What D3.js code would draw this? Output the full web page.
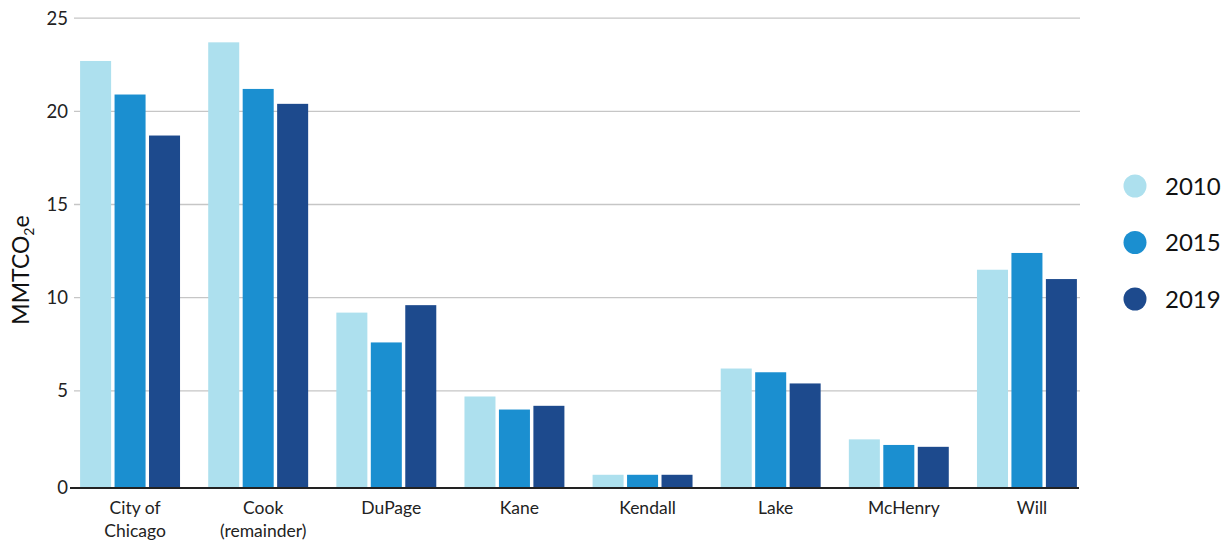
<!DOCTYPE html>
<html>
<head>
<meta charset="utf-8">
<script src="https://cdn.jsdelivr.net/npm/d3@7"></script>
<style>
  html, body { margin: 0; padding: 0; background: #fff; }
  svg { display: block; font-family: Lato, "Open Sans", sans-serif; }
</style>
</head>
<body>
<svg id="chart" width="1228" height="544"></svg>
<script>
// Emissions by county, MMTCO2e
const counties = ["City of\nChicago", "Cook\n(remainder)", "DuPage", "Kane", "Kendall", "Lake", "McHenry", "Will"];
const years = ["2010", "2015", "2019"];
const values2010 = [22.7, 23.7, 9.2, 4.7, 0.5, 6.2, 2.4, 11.5];
const values2015 = [20.9, 21.2, 7.6, 4.0, 0.5, 6.0, 2.1, 12.4];
const values2019 = [18.7, 20.4, 9.6, 4.2, 0.5, 5.4, 2.0, 11.0];
const yTicks = [0, 5, 10, 15, 20, 25];
const colors = ["#ade0ee", "#1b8fd0", "#1d4a8d"];

const seriesByYear = [values2010, values2015, values2019];
const rows = counties.map((c, i) => ({ county: c, vals: years.map((y, j) => ({ year: y, value: seriesByYear[j][i] })) }));

const svg = d3.select("#chart");

const x = d3.scaleBand().domain(counties).range([66, 1091]).paddingInner(0.22).paddingOuter(0.11);
const xInner = d3.scaleBand().domain(years).range([0, x.bandwidth()]).paddingInner(0.1);
const y = d3.scaleLinear().domain([0, 25]).range([484.1, 18.1]);
const baseY = 488;

// Gridlines
svg.append("g")
  .selectAll("line")
  .data(yTicks.filter(d => d > 0))
  .join("line")
  .attr("x1", 74).attr("x2", 1080)
  .attr("y1", d => y(d)).attr("y2", d => y(d))
  .attr("stroke", "#c6c6c6").attr("stroke-width", 1.3);

// Tick labels
svg.append("g")
  .selectAll("text")
  .data(yTicks)
  .join("text")
  .attr("x", 68)
  .attr("y", d => d === 0 ? baseY : y(d))
  .attr("dy", "0.35em")
  .attr("text-anchor", "end")
  .attr("font-size", 18.5)
  .attr("fill", "#222")
  .text(d => d);

// Bars
const groups = svg.append("g")
  .selectAll("g")
  .data(rows)
  .join("g")
  .attr("transform", d => `translate(${x(d.county)},0)`);

groups.selectAll("rect")
  .data(d => d.vals)
  .join("rect")
  .attr("x", d => xInner(d.year))
  .attr("width", xInner.bandwidth())
  .attr("y", d => y(d.value))
  .attr("height", d => baseY - y(d.value))
  .attr("fill", (d, i) => colors[i]);

// Baseline
svg.append("line")
  .attr("x1", 70).attr("x2", 1079)
  .attr("y1", baseY).attr("y2", baseY)
  .attr("stroke", "#222").attr("stroke-width", 2);

// Category labels
svg.append("g")
  .selectAll("text")
  .data(counties)
  .join("text")
  .attr("text-anchor", "middle")
  .attr("font-size", 17.5)
  .attr("fill", "#222")
  .each(function (d) {
    const t = d3.select(this);
    d.split("\n").forEach((line, i) => {
      t.append("tspan")
        .attr("x", x(d) + x.bandwidth() / 2 + 5)
        .attr("y", 514 + i * 23)
        .text(line);
    });
  });

// Axis title
const title = svg.append("text")
  .attr("transform", "translate(29,270) rotate(-90)")
  .attr("text-anchor", "middle")
  .attr("font-size", 23)
  .attr("fill", "#111");
title.append("tspan").text("MMTCO");
title.append("tspan").attr("font-size", 14).attr("dy", 5).text("2");
title.append("tspan").attr("dy", -5).text("e");

// Legend
const legend = svg.append("g")
  .selectAll("g")
  .data(years)
  .join("g")
  .attr("transform", (d, i) => `translate(1135,${186 + i * 56.5})`);
legend.append("circle").attr("r", 11.5).attr("fill", (d, i) => colors[i]);
legend.append("text")
  .attr("x", 30).attr("dy", "0.36em")
  .attr("font-size", 24)
  .attr("fill", "#111")
  .text(d => d);
</script>
</body>
</html>
